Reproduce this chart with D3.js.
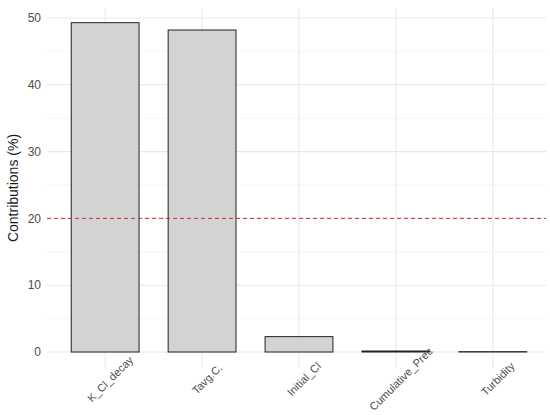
<!DOCTYPE html>
<html><head><meta charset="utf-8">
<script src="https://cdn.jsdelivr.net/npm/d3@7"></script>
<style>body{margin:0;background:#fff;} svg{display:block;font-family:"Liberation Sans",Arial,sans-serif;}</style>
</head><body>
<script>
const categories = ["K_Cl_decay","Tavg.C.","Initial_Cl","Cumulative_Prec","Turbidity"];
const values = [49.3, 48.2, 2.3, 0.15, 0.05];
const yTicks = [0,10,20,30,40,50];
const yMinor = [5,15,25,35,45];
const threshold = 20;
const yTitle = "Contributions (%)";

const W=550,H=415;
const svg=d3.select("body").append("svg").attr("width",W).attr("height",H);
const pLeft=47,pRight=551,pTop=6.5,pBottom=368,gridRight=546;
const x=d3.scaleBand().domain(categories).range([pLeft,pRight]).paddingInner(0.3).paddingOuter(0.25);
const xc=d=>x(d)+x.bandwidth()/2;
const y=d3.scaleLinear().domain([0,50]).range([352,18]);

const g=svg.append("g");
// grid
g.selectAll(".minor").data(yMinor).join("line").attr("x1",pLeft).attr("x2",gridRight).attr("y1",d=>y(d)).attr("y2",d=>y(d)).attr("stroke","#efefef").attr("stroke-width",0.6);
g.selectAll(".major").data(yTicks).join("line").attr("x1",pLeft).attr("x2",gridRight).attr("y1",d=>y(d)).attr("y2",d=>y(d)).attr("stroke","#e8e8e8").attr("stroke-width",1.1);
g.selectAll(".vmaj").data(categories).join("line").attr("x1",d=>xc(d)).attr("x2",d=>xc(d)).attr("y1",pTop+1.5).attr("y2",pBottom).attr("stroke","#e8e8e8").attr("stroke-width",1.1);

// bars
g.selectAll(".bar").data(categories).join("rect")
 .attr("x",d=>x(d)).attr("width",x.bandwidth())
 .attr("y",(d,i)=>y(values[i])).attr("height",(d,i)=>y(0)-y(values[i]))
 .attr("fill","#d3d3d3").attr("stroke","#222").attr("stroke-width",1);

// threshold
g.append("line").attr("x1",pLeft).attr("x2",gridRight).attr("y1",y(threshold)).attr("y2",y(threshold))
 .attr("stroke","#c0392b").attr("stroke-width",1).attr("stroke-dasharray","4,3");

// y tick labels
g.selectAll(".yl").data(yTicks).join("text").attr("x",41).attr("y",d=>y(d)).attr("dy","0.35em")
 .attr("text-anchor","end").attr("font-size",12).attr("fill","#4d4d4d").text(d=>d);

// x labels
g.selectAll(".xl").data(categories).join("text")
 .attr("transform",d=>`translate(${xc(d)+5},379) rotate(-45)`)
 .attr("text-anchor","middle").attr("dy","0.35em").attr("font-size",11).attr("fill","#4d4d4d").text(d=>d);

// y title
svg.append("text").attr("transform",`translate(18,${(y(0)+y(50))/2+3}) rotate(-90)`)
 .attr("text-anchor","middle").attr("font-size",14).attr("fill","#1a1a1a").text(yTitle);
</script>
</body></html>
